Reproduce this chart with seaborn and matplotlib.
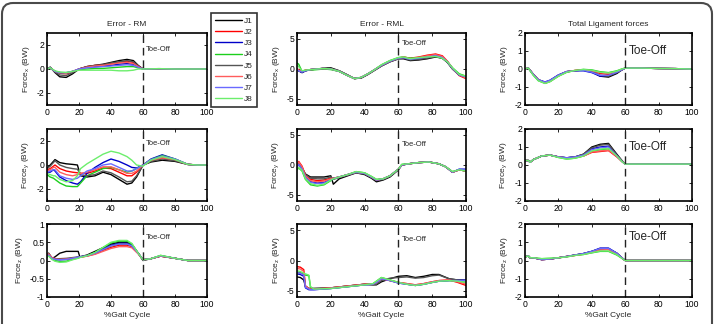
import seaborn as sns
import pandas as pd
import matplotlib.pyplot as plt
from matplotlib.patches import FancyBboxPatch
from matplotlib.lines import Line2D
from matplotlib.transforms import IdentityTransform
from matplotlib.ticker import FuncFormatter

#-----------------------------------------------------------------------------------------------------------------------
"""Data read off the figure"""
joints = ["J1", "J2", "J3", "J4", "J5", "J6", "J7", "J8"]
joint_colors = ["#000000", "#ff0000", "#0000c8", "#1ccf1c", "#555555", "#ff5c5c", "#6a6aff", "#6cee6c"]

col_titles = ["Error - RM", "Error - RML", "Total Ligament forces"]
row_labels = ["Force$_\\mathrm{x}$ (BW)", "Force$_\\mathrm{y}$ (BW)", "Force$_\\mathrm{z}$ (BW)"]
x_ticks = [0, 20, 40, 60, 80, 100]
toe_off = 60

# Error - RM, Force x
t_rm_x = [0, 2, 5, 8, 12, 16, 20, 25, 30, 35, 40, 45, 50, 54, 57, 60, 70, 80, 90, 100]
rm_x = {
    "J1": [0.0, 0.15, -0.3, -0.65, -0.7, -0.4, 0.0, 0.2, 0.3, 0.4, 0.55, 0.7, 0.8, 0.7, 0.3, 0.0, 0.02, 0.0, 0.0, 0.0],
    "J2": [0.0, 0.1, -0.2, -0.35, -0.4, -0.25, 0.0, 0.2, 0.3, 0.35, 0.45, 0.55, 0.65, 0.55, 0.25, 0.0, 0.02, 0.0, 0.0, 0.0],
    "J3": [0.0, 0.1, -0.2, -0.3, -0.35, -0.2, 0.0, 0.15, 0.2, 0.25, 0.3, 0.4, 0.45, 0.4, 0.2, 0.0, 0.02, 0.0, 0.0, 0.0],
    "J4": [0.0, 0.1, -0.2, -0.3, -0.3, -0.2, -0.05, 0.0, 0.05, 0.05, 0.1, 0.15, 0.2, 0.2, 0.1, 0.0, 0.03, 0.0, 0.0, 0.0],
    "J5": [0.0, 0.15, -0.25, -0.5, -0.55, -0.3, 0.0, 0.2, 0.3, 0.35, 0.5, 0.6, 0.7, 0.6, 0.25, 0.0, 0.02, 0.0, 0.0, 0.0],
    "J6": [0.0, 0.1, -0.2, -0.3, -0.35, -0.2, 0.0, 0.15, 0.25, 0.3, 0.4, 0.5, 0.55, 0.45, 0.2, 0.0, 0.02, 0.0, 0.0, 0.0],
    "J7": [0.0, 0.1, -0.2, -0.3, -0.3, -0.2, 0.0, 0.1, 0.15, 0.2, 0.25, 0.3, 0.35, 0.3, 0.15, 0.0, 0.02, 0.0, 0.0, 0.0],
    "J8": [0.0, 0.1, -0.15, -0.25, -0.3, -0.2, -0.1, -0.1, -0.1, -0.1, -0.1, -0.15, -0.15, -0.1, 0.0, 0.0, 0.03, 0.0, 0.0, 0.0],
}

# Error - RM, Force y
t_rm_y = [0, 2, 4, 5, 8, 12, 16, 19, 21, 25, 30, 35, 40, 45, 50, 53, 56, 60, 65, 72, 80, 88, 94, 100]
rm_y = {
    "J1": [-0.3, 0.0, 0.3, 0.45, 0.2, 0.1, 0.05, 0.0, -0.9, -1.0, -0.9, -0.6, -0.8, -1.2, -1.6, -1.5, -1.0, 0.0, 0.25, 0.4, 0.3, 0.05, 0.0, 0.0],
    "J2": [-0.4, -0.3, -0.1, 0.0, -0.3, -0.5, -0.6, -0.65, -0.7, -0.7, -0.5, -0.25, -0.3, -0.6, -0.9, -0.9, -0.6, 0.0, 0.35, 0.6, 0.4, 0.05, 0.0, 0.0],
    "J3": [-0.6, -0.6, -0.4, -0.5, -1.0, -1.3, -1.5, -1.6, -1.4, -0.7, -0.2, 0.2, 0.5, 0.3, 0.0, -0.2, -0.25, 0.0, 0.5, 0.85, 0.5, 0.05, 0.0, 0.0],
    "J4": [-0.8, -1.0, -1.1, -1.2, -1.5, -1.75, -1.8, -1.8, -1.5, -0.9, -0.6, -0.3, -0.2, -0.4, -0.6, -0.5, -0.3, 0.0, 0.45, 0.8, 0.5, 0.05, 0.0, 0.0],
    "J5": [-0.3, -0.1, 0.2, 0.35, 0.0, -0.2, -0.3, -0.35, -0.8, -0.9, -0.8, -0.5, -0.65, -1.0, -1.4, -1.35, -0.9, 0.0, 0.3, 0.5, 0.35, 0.05, 0.0, 0.0],
    "J6": [-0.5, -0.4, -0.2, -0.2, -0.6, -0.8, -0.9, -0.8, -0.7, -0.6, -0.4, -0.15, -0.15, -0.4, -0.7, -0.7, -0.5, 0.0, 0.4, 0.6, 0.45, 0.05, 0.0, 0.0],
    "J7": [-0.6, -0.5, -0.4, -0.4, -0.9, -1.1, -1.2, -1.1, -0.9, -0.5, -0.3, 0.0, 0.1, -0.2, -0.5, -0.5, -0.3, 0.0, 0.45, 0.75, 0.5, 0.05, 0.0, 0.0],
    "J8": [-0.7, -0.8, -0.9, -0.9, -1.2, -1.4, -1.3, -0.9, -0.3, 0.1, 0.5, 0.9, 1.15, 1.0, 0.7, 0.4, 0.0, -0.1, 0.4, 0.7, 0.45, 0.05, 0.0, 0.0],
}

# Error - RM, Force z
t_rm_z = [0, 1, 3, 5, 8, 12, 16, 19.5, 20.5, 25, 30, 35, 40, 45, 50, 53, 57, 60, 65, 71, 80, 88, 100]
rm_z = {
    "J1": [0.1, 0.2, 0.05, 0.1, 0.2, 0.25, 0.25, 0.25, 0.1, 0.15, 0.25, 0.35, 0.45, 0.5, 0.5, 0.45, 0.2, 0.0, 0.05, 0.12, 0.06, 0.0, 0.0],
    "J2": [0.15, 0.18, 0.08, 0.05, 0.03, 0.04, 0.06, 0.08, 0.09, 0.12, 0.18, 0.28, 0.36, 0.42, 0.42, 0.38, 0.2, 0.02, 0.05, 0.12, 0.06, 0.0, 0.0],
    "J3": [0.12, 0.15, 0.06, 0.03, 0.02, 0.03, 0.06, 0.09, 0.1, 0.13, 0.2, 0.32, 0.42, 0.47, 0.47, 0.42, 0.2, 0.02, 0.05, 0.13, 0.06, 0.0, 0.0],
    "J4": [0.1, 0.15, 0.05, 0.0, -0.03, -0.02, 0.03, 0.07, 0.09, 0.13, 0.22, 0.35, 0.48, 0.53, 0.53, 0.45, 0.2, 0.02, 0.05, 0.14, 0.06, 0.0, 0.0],
    "J5": [0.12, 0.2, 0.08, 0.05, 0.05, 0.06, 0.08, 0.1, 0.1, 0.13, 0.2, 0.3, 0.4, 0.45, 0.45, 0.4, 0.2, 0.02, 0.05, 0.12, 0.06, 0.0, 0.0],
    "J6": [0.15, 0.18, 0.08, 0.04, 0.03, 0.04, 0.06, 0.08, 0.09, 0.12, 0.17, 0.25, 0.33, 0.38, 0.38, 0.35, 0.18, 0.02, 0.05, 0.12, 0.06, 0.0, 0.0],
    "J7": [0.12, 0.15, 0.06, 0.03, 0.02, 0.03, 0.06, 0.09, 0.1, 0.13, 0.2, 0.3, 0.4, 0.45, 0.45, 0.4, 0.2, 0.02, 0.05, 0.13, 0.06, 0.0, 0.0],
    "J8": [0.1, 0.12, 0.03, -0.02, -0.05, -0.04, 0.02, 0.06, 0.08, 0.13, 0.22, 0.36, 0.5, 0.55, 0.55, 0.47, 0.2, 0.02, 0.05, 0.14, 0.06, 0.0, 0.0],
}

# Error - RML, Force x
t_rml_x = [0, 1, 3, 5, 8, 12, 16, 20, 25, 30, 34, 38, 42, 46, 50, 55, 60, 63, 67, 72, 77, 82, 86, 89, 92, 96, 100]
rml_x = {
    "J1": [0.0, -0.3, -0.6, -0.3, -0.1, 0.0, 0.15, 0.2, -0.3, -1.0, -1.6, -1.5, -0.9, -0.2, 0.5, 1.2, 1.7, 1.7, 1.4, 1.5, 1.7, 2.0, 1.8, 1.1, 0.0, -1.0, -1.4],
    "J2": [0.0, -0.1, -0.4, -0.2, -0.1, 0.0, 0.1, 0.0, -0.4, -1.1, -1.6, -1.4, -0.8, -0.1, 0.6, 1.3, 1.8, 2.0, 1.8, 2.0, 2.3, 2.5, 2.2, 1.3, 0.1, -1.1, -1.6],
    "J3": [-0.2, -0.3, -0.6, -0.3, -0.1, 0.0, 0.1, 0.0, -0.4, -1.1, -1.6, -1.4, -0.8, -0.1, 0.6, 1.3, 1.8, 1.9, 1.6, 1.8, 2.0, 2.2, 1.9, 1.2, 0.1, -1.0, -1.3],
    "J4": [1.0, 0.8, -0.4, -0.2, -0.2, -0.1, 0.0, -0.1, -0.4, -1.1, -1.6, -1.4, -0.8, -0.1, 0.7, 1.4, 1.9, 2.0, 1.8, 1.9, 2.0, 2.1, 1.8, 1.2, 0.2, -0.8, -1.2],
    "J5": [0.0, -0.3, -0.5, -0.3, -0.1, 0.0, 0.1, 0.1, -0.3, -1.0, -1.6, -1.5, -0.9, -0.2, 0.5, 1.2, 1.7, 1.8, 1.5, 1.6, 1.8, 2.1, 1.8, 1.1, 0.0, -1.0, -1.4],
    "J6": [0.0, -0.2, -0.4, -0.2, -0.1, 0.0, 0.1, 0.0, -0.4, -1.1, -1.6, -1.4, -0.8, -0.1, 0.6, 1.3, 1.8, 2.0, 1.7, 1.9, 2.2, 2.4, 2.1, 1.3, 0.1, -1.0, -1.5],
    "J7": [-0.1, -0.3, -0.5, -0.3, -0.1, 0.0, 0.1, 0.0, -0.4, -1.1, -1.6, -1.4, -0.8, -0.1, 0.6, 1.3, 1.8, 1.9, 1.6, 1.8, 2.0, 2.2, 1.9, 1.2, 0.1, -1.0, -1.3],
    "J8": [0.6, 0.4, -0.3, -0.2, -0.1, 0.0, 0.1, 0.0, -0.4, -1.1, -1.6, -1.4, -0.8, -0.1, 0.7, 1.4, 1.9, 2.0, 1.7, 1.9, 2.0, 2.1, 1.8, 1.2, 0.2, -0.9, -1.2],
}

# Error - RML, Force y
t_rml_y = [0, 1, 3, 5, 8, 12, 16, 20, 21.5, 25, 30, 35, 40, 44, 47, 51, 55, 60, 62, 66, 72, 78, 84, 88, 92, 96, 100]
rml_y = {
    "J1": [-0.3, 0.2, -0.5, -1.5, -2.0, -2.0, -2.0, -1.8, -3.2, -2.3, -1.8, -1.3, -1.6, -2.2, -2.8, -2.5, -2.0, -0.8, 0.0, 0.2, 0.4, 0.5, 0.2, -0.3, -1.2, -0.8, -1.0],
    "J2": [0.0, 0.6, -0.2, -1.7, -2.4, -2.6, -2.5, -2.2, -2.2, -2.0, -1.6, -1.2, -1.4, -2.0, -2.5, -2.3, -1.8, -0.7, 0.0, 0.2, 0.4, 0.5, 0.2, -0.3, -1.2, -0.8, -1.0],
    "J3": [-0.3, 0.1, -0.6, -2.0, -2.8, -3.0, -2.9, -2.4, -2.2, -2.0, -1.6, -1.2, -1.4, -2.0, -2.5, -2.3, -1.8, -0.7, 0.0, 0.2, 0.4, 0.5, 0.2, -0.3, -1.2, -0.7, -0.7],
    "J4": [-0.8, -0.5, -1.0, -2.4, -3.3, -3.5, -3.3, -2.6, -2.3, -2.0, -1.6, -1.1, -1.3, -1.9, -2.4, -2.3, -1.8, -0.7, 0.1, 0.2, 0.4, 0.5, 0.2, -0.3, -1.1, -0.8, -1.0],
    "J5": [-0.3, 0.2, -0.6, -1.6, -2.2, -2.3, -2.3, -2.0, -2.4, -2.1, -1.7, -1.3, -1.5, -2.1, -2.6, -2.4, -1.9, -0.8, 0.0, 0.2, 0.4, 0.5, 0.2, -0.3, -1.2, -0.8, -1.0],
    "J6": [0.0, 0.5, -0.3, -1.8, -2.6, -2.8, -2.7, -2.3, -2.2, -2.0, -1.6, -1.2, -1.4, -2.0, -2.5, -2.3, -1.8, -0.7, 0.0, 0.2, 0.4, 0.5, 0.2, -0.3, -1.2, -0.8, -1.0],
    "J7": [-0.3, 0.1, -0.7, -2.1, -2.9, -3.1, -3.0, -2.5, -2.3, -2.0, -1.6, -1.2, -1.4, -2.0, -2.5, -2.3, -1.8, -0.7, 0.0, 0.2, 0.4, 0.5, 0.2, -0.3, -1.2, -0.7, -0.8],
    "J8": [-0.7, -0.4, -0.9, -2.3, -3.1, -3.4, -3.2, -2.5, -2.3, -2.0, -1.6, -1.1, -1.3, -1.9, -2.4, -2.3, -1.8, -0.7, 0.1, 0.2, 0.4, 0.5, 0.2, -0.3, -1.1, -0.8, -1.0],
}

# Error - RML, Force z
t_rml_z = [0, 2, 4, 5, 7, 8, 10, 20, 30, 40, 45, 47, 50, 55, 60, 65, 70, 75, 80, 84, 90, 95, 100]
rml_z = {
    "J1": [-2.7, -2.8, -3.2, -4.3, -4.6, -4.6, -4.6, -4.5, -4.2, -3.9, -4.0, -4.0, -3.5, -3.0, -2.6, -2.5, -2.8, -2.6, -2.3, -2.3, -3.0, -3.2, -3.3],
    "J2": [-1.0, -1.1, -1.5, -4.2, -4.6, -4.7, -4.7, -4.5, -4.2, -3.9, -3.9, -3.6, -3.0, -3.3, -3.6, -3.8, -4.0, -3.8, -3.5, -3.3, -3.2, -3.6, -4.1],
    "J3": [-2.2, -2.3, -2.6, -4.5, -4.8, -4.8, -4.8, -4.6, -4.3, -4.0, -3.9, -3.6, -3.0, -3.3, -3.7, -3.9, -4.1, -3.9, -3.6, -3.4, -3.3, -3.2, -3.2],
    "J4": [-1.9, -2.0, -2.3, -2.4, -2.5, -4.4, -4.7, -4.6, -4.3, -4.0, -3.8, -3.4, -2.8, -3.2, -3.6, -3.9, -4.1, -3.9, -3.6, -3.4, -3.3, -3.4, -3.6],
    "J5": [-2.0, -2.1, -2.3, -4.2, -4.6, -4.6, -4.6, -4.5, -4.2, -3.9, -4.0, -3.9, -3.3, -2.9, -2.8, -2.7, -2.9, -2.8, -2.5, -2.4, -3.0, -3.2, -3.3],
    "J6": [-1.3, -1.4, -1.8, -4.2, -4.6, -4.7, -4.7, -4.5, -4.2, -3.9, -3.9, -3.6, -3.0, -3.3, -3.6, -3.8, -4.0, -3.8, -3.5, -3.3, -3.2, -3.5, -3.9],
    "J7": [-2.0, -2.1, -2.4, -4.4, -4.7, -4.8, -4.8, -4.6, -4.3, -4.0, -3.9, -3.6, -3.0, -3.3, -3.7, -3.9, -4.1, -3.9, -3.6, -3.4, -3.3, -3.3, -3.3],
    "J8": [-1.7, -1.8, -2.1, -2.2, -2.4, -4.3, -4.7, -4.6, -4.3, -4.0, -3.8, -3.4, -2.8, -3.2, -3.6, -3.9, -4.1, -3.9, -3.6, -3.4, -3.3, -3.4, -3.6],
}

# Total ligament forces, Force x
t_lig_x = [0, 2, 5, 8, 12, 15, 20, 25, 30, 35, 40, 45, 50, 55, 58, 60, 70, 80, 90, 100]
lig_x = {
    "J1": [0.0, 0.05, -0.3, -0.6, -0.75, -0.65, -0.35, -0.15, -0.1, -0.05, -0.15, -0.4, -0.45, -0.25, -0.05, 0.05, 0.05, 0.03, 0.02, 0.0],
    "J2": [0.0, 0.05, -0.3, -0.6, -0.78, -0.68, -0.38, -0.15, -0.08, -0.05, -0.1, -0.25, -0.3, -0.18, -0.03, 0.05, 0.05, 0.03, 0.02, 0.0],
    "J3": [0.0, 0.05, -0.3, -0.6, -0.72, -0.62, -0.33, -0.14, -0.1, -0.1, -0.2, -0.4, -0.38, -0.2, -0.05, 0.05, 0.05, 0.03, 0.02, 0.0],
    "J4": [0.0, 0.05, -0.35, -0.65, -0.8, -0.7, -0.4, -0.18, -0.08, -0.02, -0.05, -0.15, -0.2, -0.1, 0.0, 0.05, 0.05, 0.03, 0.02, 0.0],
    "J5": [0.0, 0.05, -0.3, -0.6, -0.75, -0.65, -0.35, -0.15, -0.1, -0.05, -0.12, -0.35, -0.4, -0.2, -0.05, 0.05, 0.05, 0.03, 0.02, 0.0],
    "J6": [0.0, 0.05, -0.3, -0.6, -0.77, -0.67, -0.37, -0.15, -0.08, -0.05, -0.1, -0.2, -0.25, -0.15, -0.03, 0.05, 0.05, 0.03, 0.02, 0.0],
    "J7": [0.0, 0.05, -0.3, -0.6, -0.73, -0.63, -0.34, -0.14, -0.1, -0.08, -0.18, -0.35, -0.35, -0.18, -0.04, 0.05, 0.05, 0.03, 0.02, 0.0],
    "J8": [0.0, 0.05, -0.35, -0.65, -0.8, -0.7, -0.4, -0.18, -0.08, -0.03, -0.07, -0.18, -0.22, -0.12, 0.0, 0.05, 0.05, 0.03, 0.02, 0.0],
}

# Total ligament forces, Force y
t_lig_y = [0, 2, 3, 5, 10, 15, 20, 25, 30, 35, 40, 45, 50, 55, 58, 60, 70, 80, 90, 100]
lig_y = {
    "J1": [0.25, 0.25, 0.15, 0.3, 0.5, 0.55, 0.45, 0.4, 0.45, 0.6, 1.0, 1.15, 1.2, 0.6, 0.25, 0.05, 0.05, 0.05, 0.05, 0.05],
    "J2": [0.25, 0.25, 0.15, 0.3, 0.5, 0.55, 0.45, 0.38, 0.42, 0.5, 0.7, 0.75, 0.8, 0.45, 0.2, 0.05, 0.05, 0.05, 0.05, 0.05],
    "J3": [0.25, 0.25, 0.15, 0.3, 0.5, 0.55, 0.45, 0.4, 0.45, 0.55, 0.9, 1.0, 1.05, 0.55, 0.22, 0.05, 0.05, 0.05, 0.05, 0.05],
    "J4": [0.25, 0.25, 0.15, 0.3, 0.5, 0.55, 0.42, 0.33, 0.38, 0.5, 0.75, 0.85, 0.9, 0.5, 0.2, 0.05, 0.05, 0.05, 0.05, 0.05],
    "J5": [0.25, 0.25, 0.15, 0.3, 0.5, 0.55, 0.45, 0.4, 0.45, 0.6, 0.95, 1.1, 1.15, 0.55, 0.25, 0.05, 0.05, 0.05, 0.05, 0.05],
    "J6": [0.25, 0.25, 0.15, 0.3, 0.5, 0.55, 0.45, 0.38, 0.42, 0.5, 0.72, 0.78, 0.82, 0.47, 0.2, 0.05, 0.05, 0.05, 0.05, 0.05],
    "J7": [0.25, 0.25, 0.15, 0.3, 0.5, 0.55, 0.45, 0.4, 0.45, 0.55, 0.85, 0.95, 1.0, 0.5, 0.2, 0.05, 0.05, 0.05, 0.05, 0.05],
    "J8": [0.25, 0.25, 0.15, 0.3, 0.5, 0.55, 0.42, 0.33, 0.38, 0.5, 0.78, 0.88, 0.92, 0.5, 0.2, 0.05, 0.05, 0.05, 0.05, 0.05],
}

# Total ligament forces, Force z
t_lig_z = [0, 2, 3, 5, 10, 15, 20, 25, 30, 35, 40, 45, 50, 55, 58, 60, 70, 80, 90, 100]
lig_z = {
    "J1": [0.2, 0.25, 0.15, 0.15, 0.05, 0.08, 0.15, 0.22, 0.3, 0.38, 0.5, 0.65, 0.65, 0.4, 0.15, 0.0, 0.0, 0.0, 0.0, 0.0],
    "J2": [0.2, 0.25, 0.15, 0.15, 0.05, 0.08, 0.15, 0.22, 0.28, 0.35, 0.45, 0.6, 0.62, 0.38, 0.14, 0.0, 0.0, 0.0, 0.0, 0.0],
    "J3": [0.2, 0.25, 0.15, 0.15, 0.05, 0.08, 0.15, 0.22, 0.3, 0.38, 0.5, 0.68, 0.68, 0.4, 0.15, 0.0, 0.0, 0.0, 0.0, 0.0],
    "J4": [0.2, 0.25, 0.15, 0.15, 0.1, 0.12, 0.15, 0.2, 0.28, 0.33, 0.42, 0.5, 0.5, 0.3, 0.12, 0.0, 0.0, 0.0, 0.0, 0.0],
    "J5": [0.2, 0.25, 0.15, 0.15, 0.05, 0.08, 0.15, 0.22, 0.3, 0.37, 0.48, 0.62, 0.63, 0.38, 0.15, 0.0, 0.0, 0.0, 0.0, 0.0],
    "J6": [0.2, 0.25, 0.15, 0.15, 0.05, 0.08, 0.15, 0.22, 0.28, 0.35, 0.45, 0.58, 0.6, 0.36, 0.14, 0.0, 0.0, 0.0, 0.0, 0.0],
    "J7": [0.2, 0.25, 0.15, 0.15, 0.05, 0.08, 0.15, 0.22, 0.3, 0.38, 0.5, 0.66, 0.66, 0.4, 0.15, 0.0, 0.0, 0.0, 0.0, 0.0],
    "J8": [0.2, 0.25, 0.15, 0.15, 0.1, 0.12, 0.15, 0.2, 0.28, 0.33, 0.43, 0.52, 0.52, 0.32, 0.12, 0.0, 0.0, 0.0, 0.0, 0.0],
}

#-----------------------------------------------------------------------------------------------------------------------
"""Layout (pixels of the 715x324 picture)"""
panels = [
    [(t_rm_x, rm_x), (t_rml_x, rml_x), (t_lig_x, lig_x)],
    [(t_rm_y, rm_y), (t_rml_y, rml_y), (t_lig_y, lig_y)],
    [(t_rm_z, rm_z), (t_rml_z, rml_z), (t_lig_z, lig_z)],
]
ylims = [[(-3, 3), (-6, 6), (-2, 2)],
         [(-3, 3), (-6, 6), (-2, 2)],
         [(-1, 1), (-6, 6), (-2, 2)]]
yticks = [[[-2, 0, 2], [-5, 0, 5], [-2, -1, 0, 1, 2]],
          [[-2, 0, 2], [-5, 0, 5], [-2, -1, 0, 1, 2]],
          [[-1, -0.5, 0, 0.5, 1], [-5, 0, 5], [-2, -1, 0, 1, 2]]]
toe_text_y = [[1.6, 4.3, 1.0], [1.8, 3.5, 1.0], [0.62, 3.5, 1.28]]
toe_text_size = [5.5, 5.5, 8.5]

W, H = 715, 324
lefts = [47, 297, 525]
widths = [160, 169, 167]
tops = [33, 129, 224]
heights = [72, 72, 73]

#-----------------------------------------------------------------------------------------------------------------------
"""Style"""
sns.set_theme(style="white")
plt.rcParams["font.family"] = ["Liberation Sans", "DejaVu Sans"]
plt.rcParams["mathtext.fontset"] = "custom"
plt.rcParams["mathtext.rm"] = "Liberation Sans"
plt.rcParams["axes.unicode_minus"] = False

palette = dict(zip(joints, joint_colors))

def to_long(t, series):
    rows = [(x, v, j) for j in joints for x, v in zip(t, series[j])]
    return pd.DataFrame(rows, columns=["gait", "force", "joint"])

fig = plt.figure(figsize=(W / 100, H / 100), dpi=100)
fig.patch.set_facecolor("white")

#-----------------------------------------------------------------------------------------------------------------------
"""Plotting"""
for r in range(3):
    for c in range(3):
        ax = fig.add_axes([lefts[c] / W, 1 - (tops[r] + heights[r]) / H, widths[c] / W, heights[r] / H])
        t, series = panels[r][c]
        sns.lineplot(data=to_long(t, series), x="gait", y="force", hue="joint", hue_order=joints,
                     palette=palette, estimator=None, sort=False, linewidth=1.0, legend=False, ax=ax)
        ax.axvline(toe_off, color="#222222", linestyle=(0, (5.5, 3.5)), linewidth=1.0)
        ax.text(toe_off + 2, toe_text_y[r][c], "Toe-Off", fontsize=toe_text_size[c], ha="left", va="center")

        ax.set_xlim(0, 100)
        ax.set_ylim(*ylims[r][c])
        ax.set_xticks(x_ticks)
        ax.set_yticks(yticks[r][c])
        ax.xaxis.set_major_formatter(FuncFormatter(lambda v, p: "%g" % v))
        ax.yaxis.set_major_formatter(FuncFormatter(lambda v, p: "%g" % v))
        ax.tick_params(direction="in", length=2.5, width=0.6, top=True, right=True,
                       bottom=True, left=True, labelsize=6.2, pad=2, colors="black")
        for s in ax.spines.values():
            s.set_color("black")
            s.set_linewidth(1.2)
        ax.set_ylabel(row_labels[r], fontsize=6, labelpad=3)
        if r == 2:
            ax.set_xlabel("%Gait Cycle", fontsize=6, labelpad=2)
        else:
            ax.set_xlabel("")
        if r == 0:
            ax.set_title(col_titles[c], fontsize=6, pad=5)

#-----------------------------------------------------------------------------------------------------------------------
"""Legend and frame"""
handles = [Line2D([0], [0], color=col, lw=1.0) for col in joint_colors]
leg = fig.legend(handles, joints, loc="upper left", bbox_to_anchor=(211 / W, 1 - 13 / H),
                 bbox_transform=fig.transFigure, frameon=True, fancybox=False, fontsize=6,
                 handlelength=3.2, handletextpad=0.3, labelspacing=0.4, borderpad=0.5,
                 borderaxespad=0)
leg.get_frame().set_edgecolor("black")
leg.get_frame().set_linewidth(1.2)

frame = FancyBboxPatch((2, -20), 710, 341, boxstyle="round,pad=0,rounding_size=11",
                       transform=IdentityTransform(), facecolor="none", edgecolor="#4a4a4a",
                       linewidth=1.5, clip_on=False)
fig.add_artist(frame)

fig.savefig("out.png", dpi=100)
